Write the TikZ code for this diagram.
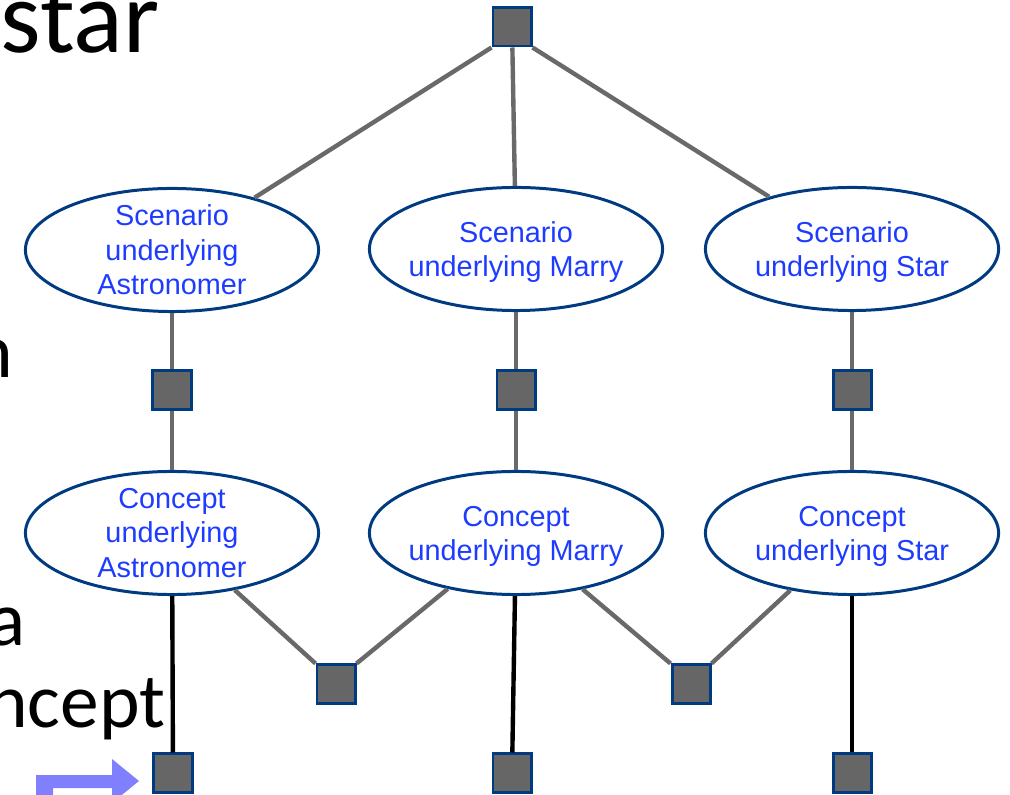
\documentclass[tikz,border=0pt]{standalone}
\usepackage{fontspec}
\setmainfont{Liberation Sans}
\newfontfamily\slidefont{Carlito}
\usetikzlibrary{shapes.geometric}
\definecolor{navy}{RGB}{0,58,128}
\definecolor{sqfill}{RGB}{102,102,102}
\definecolor{edgegray}{RGB}{105,105,105}
\definecolor{txtblue}{RGB}{30,60,255}
\definecolor{arrowblue}{RGB}{128,128,255}
\begin{document}
\begin{tikzpicture}[x=0.01cm,y=-0.01cm,
  sq/.style={rectangle, draw=navy, fill=sqfill, line width=0.85pt, minimum size=0.38cm, inner sep=0},
  ell/.style={ellipse, draw=navy, line width=0.85pt, minimum width=2.93cm, minimum height=1.23cm, inner sep=0},
  elltext/.style={align=center, text=txtblue, inner sep=0, font=\fontsize{8.2}{9.8}\selectfont},
  gedge/.style={draw=edgegray, line width=1.25pt},
  bedge/.style={draw=black, line width=1.25pt},
  slide/.style={inner sep=0, font=\slidefont\fontsize{22}{26}\selectfont}]
\useasboundingbox (0,0) rectangle (1010,795);
% slide text fragments
\node[slide, anchor=base west, font=\slidefont\fontsize{29.5}{34}\selectfont] (t1) at (0,53) {star\raisebox{5.6pt}{”}};
\node[slide, anchor=base east] (t2) at (14,378) {n};
\node[slide, anchor=base east] (t3) at (26,645) {a};
\node[slide, anchor=base east] (t4) at (166,727) {ncept};
% blue arrow
\fill[arrowblue] (36,800) -- (36,775) -- (112,775) -- (112,759) -- (139,781) -- (112,803) -- (112,788) -- (53,788) -- (53,800) -- cycle;
% nodes
\node[sq] (top) at (512,27) {};
\node[ell, label={[elltext]center:Scenario\\underlying\\Astronomer}] (sA) at (172,250) {};
\node[ell, label={[elltext, yshift=-0.8pt]center:Scenario\\underlying Marry}] (sM) at (516,249) {};
\node[ell, label={[elltext, yshift=-0.8pt]center:Scenario\\underlying Star}] (sS) at (852,249) {};
\node[sq] (mA) at (172,390) {};
\node[sq] (mM) at (516,390) {};
\node[sq] (mS) at (852,390) {};
\node[ell, label={[elltext]center:Concept\\underlying\\Astronomer}] (cA) at (172,533) {};
\node[ell, label={[elltext, yshift=-1pt]center:Concept\\underlying Marry}] (cM) at (516,533) {};
\node[ell, label={[elltext, yshift=-1pt]center:Concept\\underlying Star}] (cS) at (852,533) {};
\node[sq] (lA) at (336,684) {};
\node[sq] (lB) at (691,684) {};
\node[sq] (bA) at (173,773) {};
\node[sq] (bM) at (512,773) {};
\node[sq] (bS) at (852,773) {};
% edges
\draw[gedge] (top.south west) -- (sA);
\draw[gedge] (top) -- (sM);
\draw[gedge] (top.south east) -- (sS);
\draw[gedge] (sA) -- (mA);
\draw[gedge] (sM) -- (mM);
\draw[gedge] (sS) -- (mS);
\draw[gedge] (mA) -- (cA);
\draw[gedge] (mM) -- (cM);
\draw[gedge] (mS) -- (cS);
\draw[gedge] (lA.north west) -- (cA);
\draw[gedge] (lA.north east) -- (cM);
\draw[gedge] (lB.north west) -- (cM);
\draw[gedge] (lB.north east) -- (cS);
\draw[bedge] (cA) -- (bA);
\draw[bedge] (cM) -- (bM);
\draw[bedge] (cS) -- (bS);
\end{tikzpicture}
\end{document}
